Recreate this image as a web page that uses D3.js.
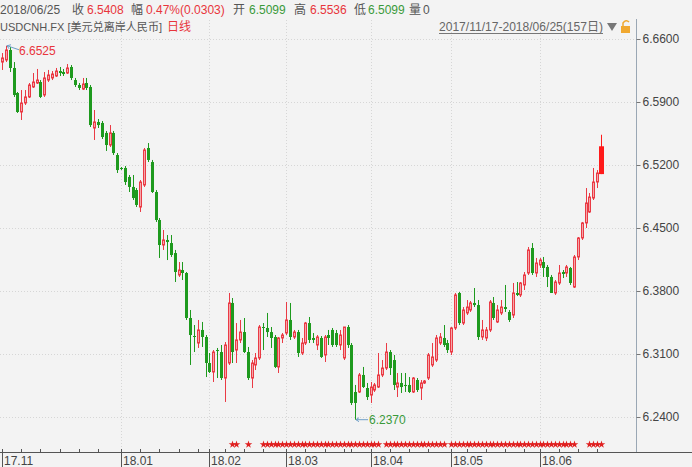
<!DOCTYPE html>
<html><head><meta charset="utf-8">
<script src="https://cdn.jsdelivr.net/npm/d3@7"></script>
<style>
html,body{margin:0;padding:0;background:#f3f3f3;}
svg{display:block;}
text{font-family:"Liberation Sans","Noto Sans CJK SC",sans-serif;}
</style></head>
<body>
<svg id="c" width="692" height="467"></svg>
<script>
// ---- data ----
const openP = [6.6344,6.6367,6.6478,6.6278,6.6000,6.5789,6.5889,6.5956,6.6067,6.6111,
6.6122,6.5978,6.6144,6.6167,6.6189,6.6244,6.6233,6.6222,6.6289,6.6144,
6.6089,6.6044,6.6111,6.6067,6.5611,6.5678,6.5667,6.5556,6.5422,6.5556,
6.5311,6.5167,6.5167,6.5067,6.4956,6.4922,6.4733,6.4978,6.5389,6.5233,
6.4900,6.4589,6.4311,6.4367,6.4333,6.4222,6.3978,6.4033,6.4000,6.3500,
6.3300,6.3222,6.3367,6.3289,6.3000,6.2900,6.3144,6.3122,6.2833,6.3000,
6.3667,6.3144,6.3256,6.3344,6.3122,6.2833,6.2978,6.3056,6.3400,6.3389,
6.3344,6.3289,6.2956,6.3278,6.3333,6.3478,6.3289,6.3344,6.3111,6.3222,
6.3444,6.3278,6.3200,6.3278,6.3089,6.3311,6.3367,6.3333,6.3200,6.3056,
6.3400,6.3200,6.2678,6.2678,6.2867,6.2722,6.2644,6.2700,6.2733,6.2867,
6.2944,6.3122,6.3033,6.2733,6.2778,6.2756,6.2756,6.2678,6.2811,6.2722,
6.2778,6.2833,6.2978,6.3033,6.3222,6.3278,6.3222,6.3122,6.3389,6.3778,
6.3444,6.3556,6.3589,6.3667,6.3644,6.3289,6.3278,6.3367,6.3667,6.3456,
6.3556,6.3622,6.3567,6.3533,6.3778,6.3756,6.3867,6.4000,6.4278,6.4000,
6.4089,6.4122,6.4067,6.3956,6.3778,6.3889,6.4011,6.4000,6.4056,6.3844,
6.4178,6.4389,6.4556,6.4678,6.4833,6.5011,6.5099];
const highP = [6.6444,6.6525,6.6511,6.6344,6.6011,6.6033,6.6033,6.6111,6.6222,6.6267,
6.6144,6.6233,6.6256,6.6244,6.6278,6.6289,6.6267,6.6322,6.6311,6.6167,
6.6111,6.6167,6.6167,6.6089,6.5811,6.5711,6.5689,6.5578,6.5644,6.5578,
6.5333,6.5178,6.5189,6.5089,6.5089,6.4944,6.5033,6.5389,6.5444,6.5256,
6.4922,6.4611,6.4478,6.4422,6.4422,6.4256,6.4122,6.4122,6.4011,6.3589,
6.3422,6.3478,6.3456,6.3311,6.3111,6.3144,6.3167,6.3200,6.3233,6.3778,
6.3722,6.3444,6.3478,6.3500,6.3178,6.3033,6.3111,6.3422,6.3444,6.3556,
6.3400,6.3311,6.3289,6.3333,6.3678,6.3667,6.3367,6.3367,6.3278,6.3456,
6.3511,6.3333,6.3311,6.3300,6.3311,6.3367,6.3389,6.3367,6.3367,6.3400,
6.3422,6.3222,6.2756,6.2889,6.2956,6.2778,6.2789,6.2778,6.3111,6.3033,
6.3222,6.3144,6.3089,6.2889,6.2889,6.2889,6.2844,6.2844,6.2833,6.2811,
6.2811,6.3111,6.3222,6.3311,6.3333,6.3422,6.3256,6.3400,6.3778,6.3789,
6.3622,6.3700,6.3689,6.3833,6.3700,6.3478,6.3400,6.3700,6.3733,6.3644,
6.3700,6.3867,6.3589,6.3889,6.3900,6.3900,6.4011,6.4289,6.4333,6.4167,
6.4167,6.4178,6.4089,6.3978,6.3922,6.4089,6.4033,6.4089,6.4067,6.4200,
6.4400,6.4567,6.4944,6.4889,6.5167,6.5144,6.5536];
const lowP = [6.6256,6.6344,6.6233,6.5956,6.5778,6.5700,6.5867,6.5944,6.6056,6.6100,
6.5944,6.5956,6.6122,6.6144,6.6178,6.6189,6.6189,6.6211,6.6144,6.6067,
6.6033,6.6033,6.6033,6.5622,6.5478,6.5611,6.5489,6.5356,6.5400,6.5311,
6.5111,6.5144,6.4978,6.4900,6.4811,6.4733,6.4678,6.4956,6.5233,6.4889,
6.4567,6.4167,6.4256,6.4144,6.4178,6.3900,6.3956,6.3922,6.3478,6.2978,
6.3122,6.3167,6.3178,6.2844,6.2889,6.2789,6.2833,6.2811,6.2567,6.2978,
6.3000,6.3000,6.3222,6.3111,6.2811,6.2722,6.2922,6.3033,6.3144,6.3289,
6.3167,6.2944,6.2889,6.3222,6.3311,6.3256,6.3267,6.3067,6.3089,6.3200,
6.3222,6.3222,6.3144,6.3056,6.3011,6.3200,6.3178,6.3178,6.3144,6.3033,
6.3167,6.2533,6.2370,6.2667,6.2722,6.2589,6.2556,6.2678,6.2722,6.2844,
6.2922,6.2867,6.2700,6.2622,6.2667,6.2678,6.2667,6.2667,6.2678,6.2589,
6.2767,6.2811,6.2956,6.3011,6.3200,6.3178,6.3111,6.3089,6.3367,6.3422,
6.3422,6.3533,6.3567,6.3622,6.3256,6.3256,6.3244,6.3344,6.3478,6.3444,
6.3533,6.3567,6.3456,6.3500,6.3744,6.3733,6.3811,6.3978,6.3978,6.3956,
6.4056,6.3956,6.3844,6.3778,6.3756,6.3867,6.3944,6.3956,6.3867,6.3833,
6.4144,6.4367,6.4500,6.4667,6.4811,6.4944,6.5099];
const closeP = [6.6389,6.6478,6.6278,6.5978,6.5789,6.5889,6.5956,6.6089,6.6122,6.6144,
6.5956,6.6167,6.6200,6.6211,6.6244,6.6222,6.6211,6.6278,6.6167,6.6089,
6.6056,6.6100,6.6056,6.5644,6.5678,6.5644,6.5511,6.5422,6.5556,6.5333,
6.5144,6.5156,6.5011,6.4956,6.4833,6.4756,6.5011,6.5367,6.5256,6.4900,
6.4589,6.4311,6.4367,6.4344,6.4200,6.4011,6.4033,6.4000,6.3500,6.3311,
6.3289,6.3367,6.3289,6.3000,6.2900,6.3122,6.3133,6.2833,6.3200,6.3667,
6.3122,6.3256,6.3344,6.3122,6.2833,6.3000,6.3056,6.3400,6.3389,6.3344,
6.3278,6.2956,6.3278,6.3311,6.3478,6.3289,6.3344,6.3111,6.3222,6.3444,
6.3256,6.3256,6.3289,6.3067,6.3289,6.3278,6.3200,6.3200,6.3311,6.3400,
6.3200,6.2556,6.2556,6.2867,6.2733,6.2622,6.2733,6.2756,6.2867,6.2944,
6.3122,6.2944,6.2756,6.2778,6.2733,6.2744,6.2678,6.2833,6.2700,6.2778,
6.2800,6.3089,6.3067,6.3278,6.3289,6.3200,6.3144,6.3389,6.3756,6.3444,
6.3589,6.3622,6.3667,6.3644,6.3289,6.3367,6.3367,6.3678,6.3500,6.3589,
6.3622,6.3600,6.3478,6.3778,6.3756,6.3889,6.3978,6.4256,6.4000,6.4111,
6.4144,6.4056,6.3956,6.3778,6.3900,6.4000,6.3989,6.4067,6.3889,6.4178,
6.4389,6.4556,6.4778,6.4844,6.5011,6.5111,6.5408];
const yTicks = [6.24,6.31,6.38,6.45,6.52,6.59,6.66];
const monthLabels = ["17.11","18.01","18.02","18.03","18.04","18.05","18.06"];
const monthStart = [0,31,54,74,96,117,140];
const weekTicks = [5,10,15,20,25,36,41,46,51,58,63,68,79,84,89,91,101,106,111,121,126,131,136,145,150,155];
const starIdx = [60,61,64].concat(d3.range(68,99),d3.range(100,116),d3.range(117,150),d3.range(153,157));
const header = [
 {t:"2018/06/25",x:0,c:"#555"},{t:"收",x:72,c:"#555"},{t:"6.5408",x:87,c:"#e8353b"},
 {t:"幅",x:131,c:"#555"},{t:"0.47%(0.0303)",x:146,c:"#e8353b"},
 {t:"开",x:233,c:"#555"},{t:"6.5099",x:249,c:"#3a9a3a"},
 {t:"高",x:294,c:"#555"},{t:"6.5536",x:310,c:"#e8353b"},
 {t:"低",x:354,c:"#555"},{t:"6.5099",x:368,c:"#3a9a3a"},
 {t:"量",x:409,c:"#555"},{t:"0",x:423,c:"#555"}];

const N = openP.length;
const data = d3.range(N).map(i=>({i,o:openP[i],h:highP[i],l:lowP[i],c:closeP[i]}));

const svg = d3.select("#c");
const W=692,H=467;
const plotR = 636, axisY = 452;
const x = d3.scaleLinear().domain([0,156]).range([2,601]);
const y = d3.scaleLinear().domain([6.24,6.66]).range([417,39]);
const px = i => Math.round(x(i));

svg.append("rect").attr("width",W).attr("height",H).attr("fill","#f3f3f3");

// grid
const grid = svg.append("g");
yTicks.forEach(v=>{
  grid.append("line").attr("x1",0).attr("x2",plotR).attr("y1",Math.round(y(v))+0.5).attr("y2",Math.round(y(v))+0.5)
   .attr("stroke","#d6d6d6").attr("stroke-dasharray","1,2");
});
monthStart.slice(1).forEach(i=>{
  grid.append("line").attr("x1",px(i)+0.5).attr("x2",px(i)+0.5).attr("y1",20).attr("y2",axisY)
   .attr("stroke","#d6d6d6").attr("stroke-dasharray","1,2");
});

// y axis line & labels
svg.append("line").attr("x1",plotR+0.5).attr("x2",plotR+0.5).attr("y1",19).attr("y2",axisY)
  .attr("stroke","#9aa7b4").attr("stroke-width",1);
const yAxis = d3.axisRight(y).tickValues(yTicks).tickFormat(d3.format(".4f")).tickSize(4).tickPadding(2);
const ya = svg.append("g").attr("transform",`translate(${plotR+0.5},0)`).call(yAxis);
ya.select(".domain").remove();
ya.selectAll("line").attr("stroke","#777");
ya.selectAll("text").attr("fill","#444").attr("font-size","12px").attr("font-family","Liberation Sans, sans-serif");

// header
header.forEach(d=>{
  svg.append("text").attr("x",d.x).attr("y",14).attr("fill",d.c).attr("font-size","12px").text(d.t);
});
svg.append("text").attr("x",0).attr("y",31).attr("fill","#555").attr("font-size","11px")
  .attr("textLength",162).attr("lengthAdjust","spacingAndGlyphs").text("USDCNH.FX [美元兑离岸人民币]");
svg.append("text").attr("x",167).attr("y",31).attr("fill","#e8353b").attr("font-size","12px").text("日线");
svg.append("text").attr("x",439).attr("y",31).attr("fill","#666").attr("font-size","12px")
  .attr("textLength",164).attr("lengthAdjust","spacingAndGlyphs").text("2017/11/17-2018/06/25(157日)");
svg.append("line").attr("x1",439).attr("x2",603).attr("y1",33.5).attr("y2",33.5).attr("stroke","#777");
svg.append("path").attr("d","M607,23 L617,23 L612,31 Z").attr("fill","#777");
// lock icon
svg.append("rect").attr("x",621).attr("y",26).attr("width",9).attr("height",7).attr("fill","#f0a830");
svg.append("path").attr("d","M623,26 L623,23 Q626,19 629,22").attr("fill","none").attr("stroke","#f0a830").attr("stroke-width",1.5);

// candles
const cg = svg.append("g");
data.forEach(d=>{
  const cx = px(d.i)+0.5;
  const up = d.c>=d.o;
  const last = d.i===N-1;
  const col = last ? "#ff1a1a" : (up ? "#ea3a44" : "#1e9a1e");
  cg.append("line").attr("x1",cx).attr("x2",cx).attr("y1",y(d.h)).attr("y2",y(d.l)).attr("stroke",col).attr("stroke-width",1);
  const top = y(Math.max(d.o,d.c)), bot = y(Math.min(d.o,d.c));
  const hgt = Math.max(1,bot-top);
  if(last){
    cg.append("rect").attr("x",cx-2.5).attr("y",top).attr("width",5).attr("height",hgt).attr("fill",col);
  } else if(up){
    cg.append("rect").attr("x",cx-1).attr("y",top).attr("width",2).attr("height",hgt)
      .attr("fill","#f4a6aa").attr("stroke",col).attr("stroke-width",1);
  } else {
    cg.append("rect").attr("x",cx-1.5).attr("y",top).attr("width",3).attr("height",hgt).attr("fill",col);
  }
});

// max / min annotations
const iMax = d3.maxIndex(highP), iMin = d3.minIndex(lowP);
svg.append("path").attr("d",`M${px(iMax)+1},${y(highP[iMax])} L${px(iMax)+13},${y(highP[iMax])+4} M${px(iMax)+1},${y(highP[iMax])} l4,-1 M${px(iMax)+1},${y(highP[iMax])} l2,3`)
  .attr("stroke","#6f9fc8").attr("fill","none");
svg.append("text").attr("x",px(iMax)+13).attr("y",55).attr("fill","#e8353b").attr("font-size","12px").text(d3.format(".4f")(highP[iMax]));
svg.append("path").attr("d",`M${px(iMin)+1},${y(lowP[iMin])} L${px(iMin)+13},${y(lowP[iMin])} M${px(iMin)+1},${y(lowP[iMin])} l3,-2 M${px(iMin)+1},${y(lowP[iMin])} l3,2`)
  .attr("stroke","#6f9fc8").attr("fill","none");
svg.append("text").attr("x",px(iMin)+14).attr("y",y(lowP[iMin])+4).attr("fill","#3a9a3a").attr("font-size","12px").text(d3.format(".4f")(lowP[iMin]));

// stars
const star = d3.symbol().type(d3.symbolStar).size(18);
starIdx.forEach(i=>{
  svg.append("path").attr("d",star()).attr("transform",`translate(${px(i)+0.5},444.5)`).attr("fill","#e02020");
});

// x axis
svg.append("line").attr("x1",0).attr("x2",W).attr("y1",axisY+0.5).attr("y2",axisY+0.5).attr("stroke","#555");
weekTicks.forEach(i=>{
  svg.append("line").attr("x1",px(i)+0.5).attr("x2",px(i)+0.5).attr("y1",axisY-3).attr("y2",axisY).attr("stroke","#555");
});
monthStart.forEach((i,k)=>{
  svg.append("line").attr("x1",px(i)+0.5).attr("x2",px(i)+0.5).attr("y1",axisY-3).attr("y2",H).attr("stroke","#555");
  svg.append("text").attr("x",px(i)+2).attr("y",465).attr("fill","#444").attr("font-size","12px").text(monthLabels[k]);
});
</script>
</body></html>
